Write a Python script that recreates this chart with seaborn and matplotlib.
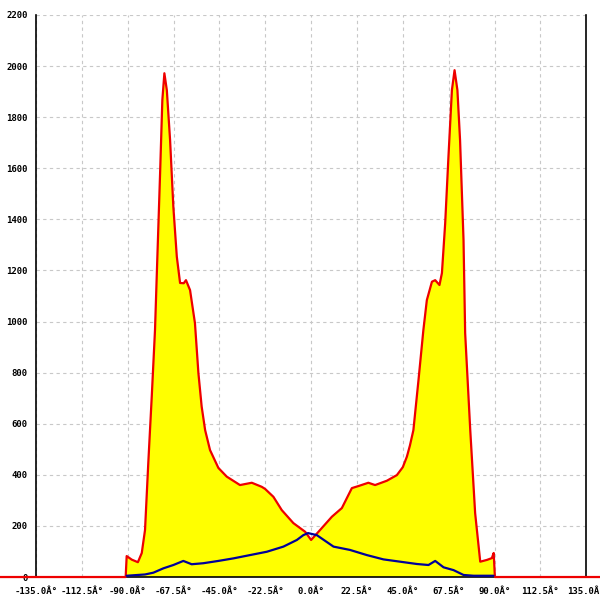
import numpy as np
import pandas as pd
import matplotlib
matplotlib.use("Agg")
import matplotlib.pyplot as plt
import seaborn as sns

# angle (deg) / count for the filled distribution
red_angle = [-180, -91, -90.5, -88, -85, -83.1, -81.5, -79.9, -78.2, -76.6, -75.7, -74.1,
             -73.0, -72.0, -70.8, -69.2, -67.6, -65.9, -64.3, -62.5, -61.4, -59.4, -57.0,
             -55.3, -53.7, -52.0, -49.6, -45.5, -41.4, -34.9, -29.1, -24.2, -22.6, -18.5, -14.4,
             -8.7, -2.9, 0.0, 4.4, 10.2, 15.1, 20.0, 23.2, 28.1, 31.4, 37.2, 42.1, 45.0, 47.0,
             48.5, 50.2, 52.7, 55.1, 56.8, 59.3, 60.9, 63.0, 64.2, 65.8, 67.4, 69.1, 70.4, 71.8,
             73.1, 74.8, 75.6, 78.1, 80.5, 83.0, 86.3, 88.7, 89.6, 90.2, 180]
red_count = [0, 0, 82, 68, 58, 94, 184, 446, 706, 967, 1190, 1581,
             1867, 1972, 1906, 1710, 1449, 1254, 1151, 1150, 1162, 1123, 994,
             798, 667, 575, 497, 427, 393, 360, 369, 353, 345, 314, 262,
             211, 177, 145, 184, 236, 270, 348, 356, 369, 360, 377, 399, 430, 471,
             515, 575, 771, 967, 1084, 1156, 1162, 1143, 1190, 1385, 1645, 1906, 1984, 1906,
             1710, 1319, 955, 575, 250, 60, 67, 74, 94, 0, 0]

# second series (blue line)
blue_angle = [-90.5, -81.5, -77.4, -72.5, -67.6, -62.7, -58.6, -52.9, -45.5, -38.1, -29.9,
              -21.7, -13.6, -7.0, -3.8, -1.5, 2.8, 11.0, 19.1, 27.3, 35.5, 43.7, 51.9,
              57.6, 60.9, 65.0, 69.9, 74.8, 79.7, 89.5]
blue_count = [5, 10, 17, 34, 47, 63, 50, 54, 63, 73, 86,
              99, 119, 145, 164, 172, 164, 119, 106, 86, 69, 60, 51,
              47, 63, 38, 27, 8, 5, 5]

x_ticks = [-135, -112.5, -90, -67.5, -45, -22.5, 0, 22.5, 45, 67.5, 90, 112.5, 135]
y_ticks = list(range(0, 2201, 200))

sns.set_style("white")
plt.rcParams["font.family"] = ["DejaVu Sans Mono", "DejaVu Sans"]

fig = plt.figure(figsize=(6, 6), dpi=100)
ax = fig.add_axes([0.06, 0.0383, 0.917, 0.9367])

red = pd.DataFrame({"angle": red_angle, "count": red_count})
blue = pd.DataFrame({"angle": blue_angle, "count": blue_count})

ax.fill_between(red["angle"], 0, red["count"], color="#ffff00", lw=0, zorder=2)
sns.lineplot(data=red, x="angle", y="count", color="#ee0000", lw=1.6,
             sort=False, estimator=None, ax=ax, zorder=3, clip_on=False)
sns.lineplot(data=blue, x="angle", y="count", color="#000099", lw=1.6,
             sort=False, estimator=None, ax=ax, zorder=4)

ax.set_xlim(-135, 135)
ax.set_ylim(0, 2200)
ax.set_xticks(x_ticks)
ax.set_xticklabels([f"{t:.1f}Â°" for t in x_ticks], fontsize=6.5, fontweight="bold")
ax.set_yticks(y_ticks)
ax.set_yticklabels([str(t) for t in y_ticks], fontsize=6.5, fontweight="bold")
ax.set_xlabel("")
ax.set_ylabel("")

ax.grid(True, color="#c8c8c8", linestyle=(0, (3, 3)), linewidth=0.8, zorder=0)
ax.set_axisbelow(True)
for s in ["left", "right", "bottom"]:
    ax.spines[s].set_color("black")
    ax.spines[s].set_linewidth(1.2)
ax.spines["top"].set_visible(False)
ax.tick_params(axis="y", direction="inout", length=8, width=1.2, pad=2, colors="black")
ax.tick_params(axis="x", direction="out", length=5, width=1.2, pad=2, colors="black")

fig.savefig("out.png", dpi=100)
